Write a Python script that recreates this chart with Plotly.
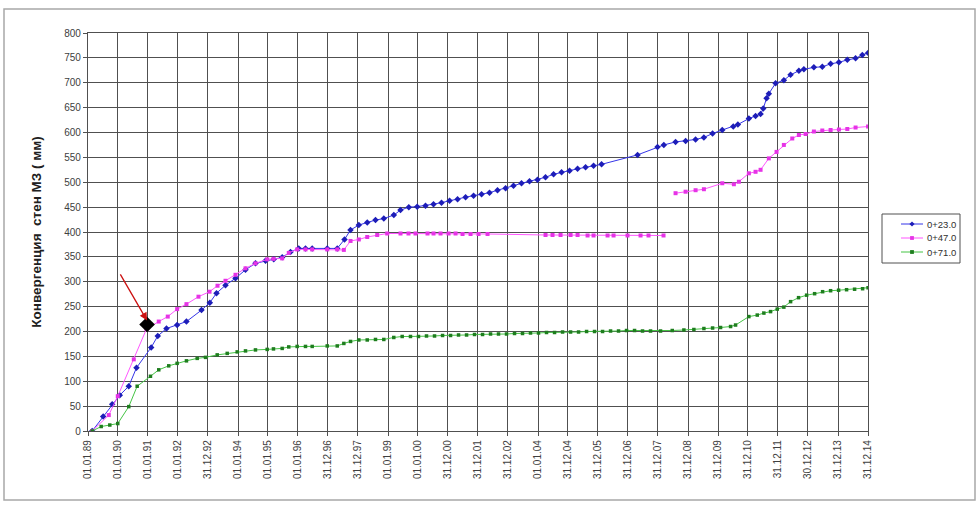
import datetime as dt
import plotly.graph_objects as go

# Measurement times (decimal years) and wall convergence (mm) per station
t_023 = [1989.14, 1989.507, 1989.807, 1990.06, 1990.36, 1990.617, 1991.107, 1991.327, 1991.617, 1991.973,
         1992.283, 1992.783, 1993.06, 1993.283, 1993.583, 1993.917, 1994.25, 1994.583, 1994.917, 1995.193,
         1995.473, 1995.75, 1996.027, 1996.25, 1996.473, 1996.973, 1997.307, 1997.55, 1997.75, 1998.027,
         1998.307, 1998.583, 1998.86, 1999.193, 1999.417, 1999.693, 1999.973, 2000.25, 2000.517, 2000.783,
         2001.05, 2001.317, 2001.583, 2001.85, 2002.117, 2002.383, 2002.65, 2002.917, 2003.183, 2003.45,
         2003.717, 2003.983, 2004.25, 2004.517, 2004.783, 2005.05, 2005.317, 2005.583, 2005.85, 2006.117,
         2007.317, 2007.983, 2008.193, 2008.583, 2008.917, 2009.25, 2009.527, 2009.817, 2010.14, 2010.507,
         2010.66, 2011.027, 2011.25, 2011.417, 2011.507, 2011.617, 2011.693, 2011.917, 2012.193, 2012.417,
         2012.693, 2012.86, 2013.193, 2013.473, 2013.75, 2014.027, 2014.307, 2014.583, 2014.807, 2015.0]
v_023 = [0, 29, 54, 72, 90, 127, 168, 191, 206, 213,
         220, 243, 258, 277, 293, 307, 324, 337, 342, 345,
         349, 360, 367, 367, 367, 367, 367, 385, 404, 414,
         419, 424, 427, 434, 444, 450, 451, 453, 456, 459,
         463, 466, 470, 473, 476, 479, 484, 488, 493, 498,
         502, 505, 510, 516, 520, 523, 527, 530, 533, 536,
         555, 571, 575, 581, 583, 586, 590, 598, 605, 612,
         616, 628, 633, 637, 648, 669, 678, 699, 705, 716,
         724, 727, 731, 732, 738, 741, 746, 749, 756, 760]

t_047 = [1989.14, 1989.693, 1989.993, 1990.527, 1990.95, 1991.36, 1991.66, 1991.973, 1992.283, 1992.683,
         1993.05, 1993.317, 1993.583, 1993.917, 1994.25, 1994.583, 1994.973, 1995.183, 1995.473, 1995.693,
         1995.973, 1996.25, 1996.473, 1996.973, 1997.307, 1997.527, 1997.75, 1998.027, 1998.307, 1998.64,
         1998.973, 1999.417, 1999.683, 1999.917, 2000.317, 2000.517, 2000.75, 2001.017, 2001.25, 2001.483,
         2001.75, 2002.017, 2002.317, 2004.25, 2004.483, 2004.75, 2005.083, 2005.317, 2005.65, 2005.85,
         2006.317, 2006.517, 2006.983, 2007.417, 2007.683, 2008.183, None, 2008.583, 2008.917, 2009.25,
         2009.527, 2010.14, 2010.527, 2010.693, 2011.027, 2011.25, 2011.417, 2011.693, 2011.95, 2012.193,
         2012.473, 2012.693, 2012.917, 2013.193, 2013.473, 2013.75, 2014.027, 2014.307, 2014.583, 2015.0]
v_047 = [0, 32, 70, 144, 205, 220, 230, 245, 255, 270,
         280, 292, 302, 314, 327, 337, 345, 346, 347, 358,
         365, 365, 365, 365, 365, 364, 382, 385, 390, 394,
         397, 397, 397, 397, 397, 397, 397, 397, 397, 396,
         396, 396, 396, 394, 394, 394, 394, 394, 393, 393,
         393, 393, 393, 393, 393, 393, None, 478, 481, 484,
         486, 498, 496, 501, 518, 521, 525, 548, 561, 575,
         588, 595, 597, 602, 604, 605, 606, 607, 610, 612]

t_071 = [1989.14, 1989.44, 1989.727, 1989.993, 1990.36, 1990.64, 1991.083, 1991.36, 1991.693, 1991.973,
         1992.283, 1992.64, 1992.917, 1993.307, 1993.64, 1993.973, 1994.25, 1994.583, 1994.973, 1995.183,
         1995.473, 1995.693, 1995.973, 1996.25, 1996.473, 1996.973, 1997.307, 1997.527, 1997.75, 1998.027,
         1998.307, 1998.583, 1998.86, 1999.193, 1999.473, 1999.75, 2000.017, 2000.283, 2000.55, 2000.817,
         2001.083, 2001.35, 2001.617, 2001.883, 2002.15, 2002.417, 2002.683, 2002.95, 2003.217, 2003.483,
         2003.75, 2004.017, 2004.283, 2004.55, 2004.817, 2005.083, 2005.35, 2005.617, 2005.883, 2006.15,
         2006.417, 2006.683, 2006.95, 2007.217, 2007.483, 2007.75, 2008.083, 2008.473, 2008.86, 2009.193,
         2009.527, 2009.817, 2010.083, 2010.417, 2010.583, 2011.027, 2011.307, 2011.527, 2011.75, 2011.973,
         2012.193, 2012.417, 2012.683, 2012.95, 2013.217, 2013.483, 2013.75, 2014.017, 2014.283, 2014.55,
         2014.817, 2015.0]
v_071 = [0, 9, 12, 15, 49, 90, 110, 123, 131, 136,
         141, 146, 148, 153, 156, 159, 161, 163, 164, 165,
         166, 169, 170, 170, 170, 171, 171, 176, 180, 183,
         183, 184, 184, 188, 190, 190, 190, 191, 191, 192,
         192, 193, 193, 194, 194, 195, 195, 195, 196, 196,
         197, 197, 198, 198, 199, 199, 199, 200, 200, 200,
         201, 201, 202, 202, 201, 201, 201, 202, 203, 204,
         206, 207, 208, 210, 213, 230, 233, 237, 240, 245,
         249, 260, 268, 273, 276, 280, 282, 283, 284, 285,
         286, 288]

# Highlighted reading and the arrow tail pointing at it
t_mark = [1990.97]
v_mark = [214]
arrow_tail = (1990.05, 318)

tick_dates = ["1989-01-01", "1990-01-01", "1991-01-01", "1992-01-01", "1992-12-31", "1994-01-01",
              "1995-01-01", "1996-01-01", "1996-12-31", "1997-12-31", "1999-01-01", "2000-01-01",
              "2000-12-31", "2001-12-31", "2002-12-31", "2004-01-01", "2004-12-31", "2005-12-31",
              "2006-12-31", "2007-12-31", "2008-12-31", "2009-12-31", "2010-12-31", "2011-12-31",
              "2012-12-30", "2013-12-31", "2014-12-31"]
tick_text = ["01.01.89", "01.01.90", "01.01.91", "01.01.92", "31.12.92", "01.01.94",
             "01.01.95", "01.01.96", "31.12.96", "31.12.97", "01.01.99", "01.01.00",
             "31.12.00", "31.12.01", "31.12.02", "01.01.04", "31.12.04", "31.12.05",
             "31.12.06", "31.12.07", "31.12.08", "31.12.09", "31.12.10", "31.12.11",
             "30.12.12", "31.12.13", "31.12.14"]

series_names = ["0+23.0", "0+47.0", "0+71.0"]

for t, v in ((t_023, v_023), (t_047, v_047), (t_071, v_071)):
    assert len(t) == len(v)


def to_date(y):
    """Convert a decimal year to a datetime (None kept as a line break)."""
    if y is None:
        return None
    year = int(y)
    start = dt.datetime(year, 1, 1)
    days = (dt.datetime(year + 1, 1, 1) - start).days
    return start + dt.timedelta(days=(y - year) * days)


FONT = "Liberation Sans, Arial, sans-serif"
W, H = 979, 507
L, R, T, B = 88, 111, 33, 76
PW, PH = W - L - R, H - T - B


def px_x(p):
    return (p - L) / PW


def px_y(p):
    return (H - B - p) / PH


fig = go.Figure()

styles = [
    dict(line=dict(color="#3535e8", width=1), marker=dict(symbol="diamond", size=5, color="#1d1db8"), sym="diamond"),
    dict(line=dict(color="#ff55ff", width=1), marker=dict(symbol="square", size=4, color="#e633e6"), sym="square"),
    dict(line=dict(color="#44c444", width=1), marker=dict(symbol="square", size=3.5, color="#1e7d1e"), sym="square"),
]

for name, t, v, st in zip(series_names, (t_023, t_047, t_071), (v_023, v_047, v_071), styles):
    fig.add_trace(go.Scatter(
        x=[to_date(a) for a in t], y=v, name=name, mode="lines+markers",
        line=st["line"], marker=st["marker"], connectgaps=False, showlegend=False,
    ))

fig.add_trace(go.Scatter(
    x=[to_date(a) for a in t_mark], y=v_mark, mode="markers", showlegend=False,
    marker=dict(symbol="diamond", size=12, color="black"),
))

fig.add_annotation(
    x=to_date(t_mark[0]), y=v_mark[0] + 8, ax=to_date(arrow_tail[0]), ay=arrow_tail[1],
    xref="x", yref="y", axref="x", ayref="y", text="", showarrow=True,
    arrowhead=2, arrowsize=1.2, arrowwidth=1.3, arrowcolor="#cc1111",
)

grid = "#505050"
fig.update_xaxes(
    type="date", range=["1989-01-01", "2014-12-31"],
    tickvals=tick_dates, ticktext=tick_text, tickangle=-90,
    showgrid=True, gridcolor=grid, gridwidth=1.2,
    showline=True, linecolor=grid, linewidth=1.2, mirror=True,
    ticks="outside", ticklen=4, tickcolor=grid,
    tickfont=dict(family=FONT, size=10, color="#404040"),
    zeroline=False,
)
fig.update_yaxes(
    range=[0, 800], dtick=50, tick0=0,
    showgrid=True, gridcolor=grid, gridwidth=1.2,
    showline=True, linecolor=grid, linewidth=1.2, mirror=True,
    ticks="outside", ticklen=4, tickcolor=grid,
    tickfont=dict(family=FONT, size=10, color="#404040"),
    title=dict(text="<b>Конвергенция  стен МЗ ( мм)</b>", standoff=19,
               font=dict(family=FONT, size=13.5, color="#202020")),
    zeroline=False,
)

# Outer chart frame
fig.add_shape(type="rect", xref="paper", yref="paper",
              x0=px_x(4), x1=px_x(975), y0=px_y(500), y1=px_y(9),
              line=dict(color="#a8a8a8", width=1.5), layer="below")

# Compact legend box drawn with shapes and text
LEG_X0, LEG_X1, LEG_Y0, LEG_Y1 = 882, 960, 214, 263
fig.add_shape(type="rect", xref="paper", yref="paper",
              x0=px_x(LEG_X0), x1=px_x(LEG_X1), y0=px_y(LEG_Y1), y1=px_y(LEG_Y0),
              line=dict(color="#505050", width=1), fillcolor="white")
row_y = [224, 238, 252]
for name, st, ry in zip(series_names, styles, row_y):
    fig.add_shape(type="line", xref="paper", yref="paper",
                  x0=px_x(901), x1=px_x(923), y0=px_y(ry), y1=px_y(ry),
                  line=dict(color=st["line"]["color"], width=1))
    cx, cy, r = 912, ry, 2.6
    if st["sym"] == "diamond":
        path = (f"M {px_x(cx - r)} {px_y(cy)} L {px_x(cx)} {px_y(cy - r)} "
                f"L {px_x(cx + r)} {px_y(cy)} L {px_x(cx)} {px_y(cy + r)} Z")
        fig.add_shape(type="path", xref="paper", yref="paper", path=path,
                      fillcolor=st["marker"]["color"], line=dict(width=0))
    else:
        r = 1.9
        fig.add_shape(type="rect", xref="paper", yref="paper",
                      x0=px_x(cx - r), x1=px_x(cx + r), y0=px_y(cy + r), y1=px_y(cy - r),
                      fillcolor=st["marker"]["color"], line=dict(width=0))
    fig.add_annotation(xref="paper", yref="paper", x=px_x(925), y=px_y(ry),
                       xanchor="left", yanchor="middle", showarrow=False, text=name,
                       font=dict(family=FONT, size=9.5, color="#303030"))

fig.update_layout(
    width=W, height=H,
    margin=dict(l=L, r=R, t=T, b=B),
    paper_bgcolor="white", plot_bgcolor="white",
    showlegend=False,
)

fig.write_html("out.html")
